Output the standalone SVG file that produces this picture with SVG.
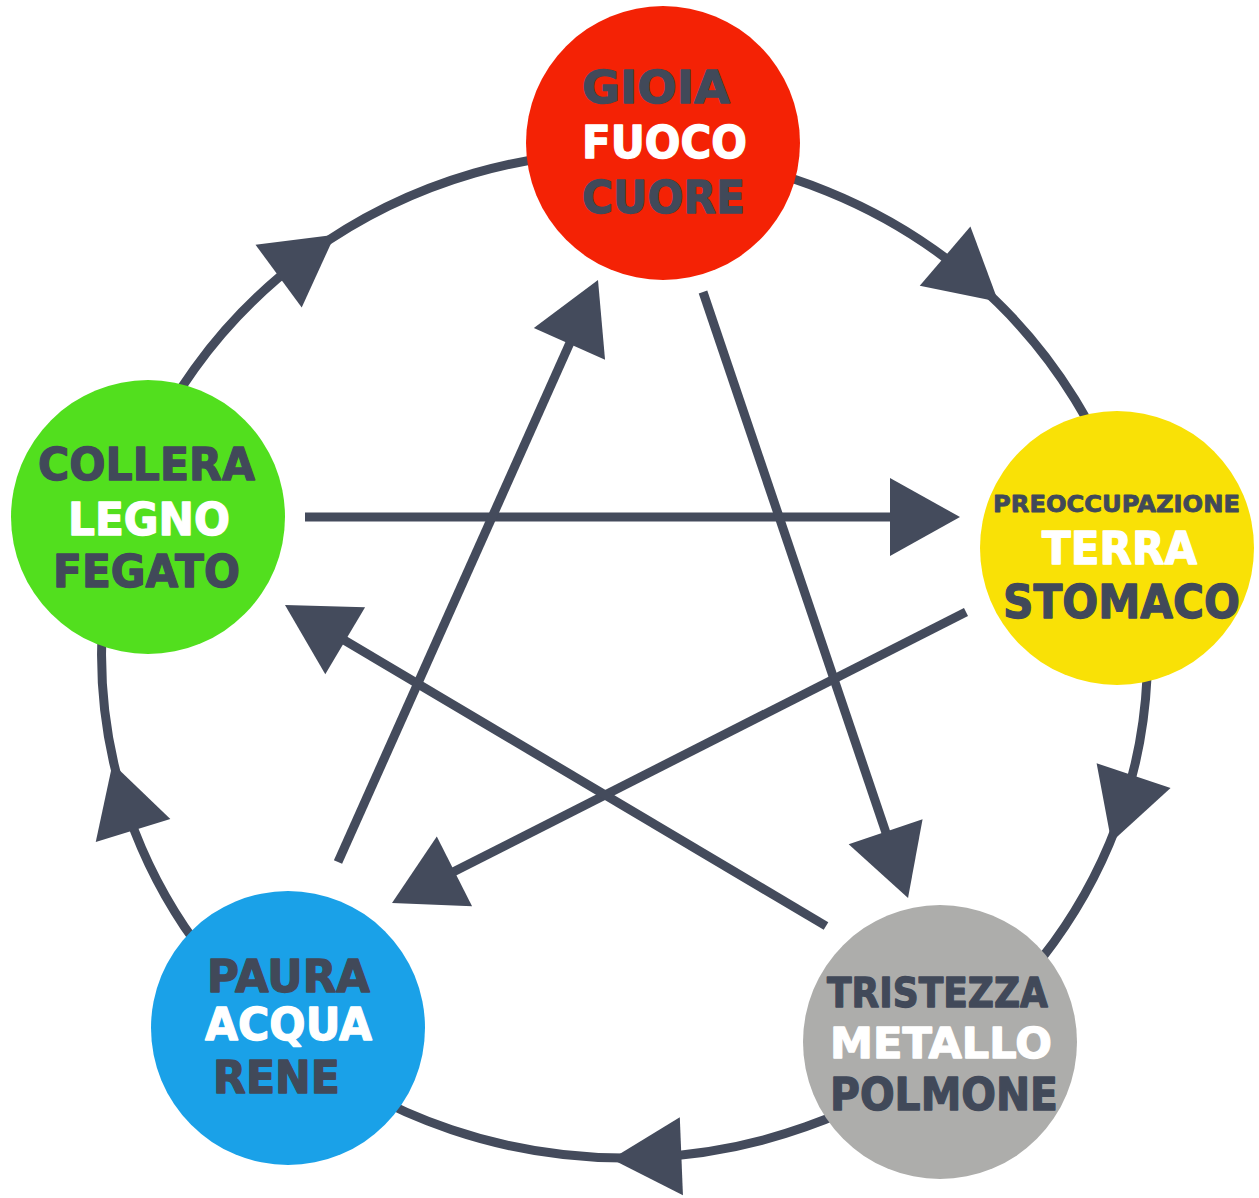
<svg xmlns="http://www.w3.org/2000/svg" width="1259" height="1198" viewBox="0 0 1259 1198">
  <style>
    .conn { fill: none; stroke: #444b5c; stroke-width: 9; stroke-linecap: butt; }
    .arc { marker-mid: url(#am); }
    .line { marker-end: url(#ah); }
    .t { font-family: "DejaVu Sans", Verdana, sans-serif; font-weight: bold; text-anchor: middle; stroke-width: 1.3; stroke-linejoin: round; }
    .dk { fill: #414959; stroke: #414959; }
    .wh { fill: #ffffff; stroke: #ffffff; }
  </style>
  <defs>
    <marker id="am" markerUnits="userSpaceOnUse" markerWidth="80" markerHeight="80" viewBox="-40 -40 80 80" refX="0" refY="0" orient="auto" overflow="visible">
      <path d="M -35,-39 L 35,0 L -35,39 Z" fill="#444b5c"/>
    </marker>
    <marker id="ah" markerUnits="userSpaceOnUse" markerWidth="80" markerHeight="80" viewBox="-75 -40 80 80" refX="-12" refY="0" orient="auto" overflow="visible">
      <path d="M -70,-39 L 0,0 L -70,39 Z" fill="#444b5c"/>
    </marker>
  </defs>
  <rect width="1259" height="1198" fill="#ffffff"/>
  <g id="connectors">
    <path class="conn arc" d="M 661.0,153.2 A 523 503 0 0 1 971.7,278.9 A 523 503 0 0 1 1134.7,544.4"/>
    <path class="conn arc" d="M 1134.7,544.4 A 523 503 0 0 1 1122.5,808.8 A 523 503 0 0 1 947.4,1050.6"/>
    <path class="conn arc" d="M 947.4,1050.6 A 523 503 0 0 1 646.4,1157.6 A 523 503 0 0 1 281.4,1034.6"/>
    <path class="conn arc" d="M 281.4,1034.6 A 523 503 0 0 1 122.8,797.0 A 523 503 0 0 1 123.6,510.5"/>
    <path class="conn arc" d="M 123.6,510.5 A 523 503 0 0 1 306.8,255.4 A 523 503 0 0 1 661.0,153.2"/>
    <path class="conn line" d="M 305,517 L 948,517"/>
    <path class="conn line" d="M 703,292 L 904.2,886.6"/>
    <path class="conn line" d="M 966,612 L 402.7,897.6"/>
    <path class="conn line" d="M 826,926 L 295.3,611.1"/>
    <path class="conn line" d="M 338,862 L 593.1,291.0"/>
  </g>
  <g id="node-fuoco">
    <circle cx="663" cy="143" r="137" fill="#f42205"/>
    <text class="t dk" x="656" y="103" font-size="44" textLength="148" lengthAdjust="spacingAndGlyphs">GIOIA</text>
    <text class="t wh" x="664.5" y="158" font-size="44" textLength="165" lengthAdjust="spacingAndGlyphs">FUOCO</text>
    <text class="t dk" x="663.5" y="213" font-size="44" textLength="163" lengthAdjust="spacingAndGlyphs">CUORE</text>
  </g>
  <g id="node-terra">
    <circle cx="1117" cy="548" r="137" fill="#f9e106"/>
    <text class="t dk" x="1116.5" y="512" font-size="23" textLength="247" lengthAdjust="spacingAndGlyphs" style="stroke-width:0.8">PREOCCUPAZIONE</text>
    <text class="t wh" x="1119.5" y="564" font-size="44" textLength="155" lengthAdjust="spacingAndGlyphs">TERRA</text>
    <text class="t dk" x="1121.5" y="618" font-size="46" textLength="237" lengthAdjust="spacingAndGlyphs">STOMACO</text>
  </g>
  <g id="node-metallo">
    <circle cx="940" cy="1042" r="137" fill="#adadab"/>
    <text class="t dk" x="937.5" y="1007" font-size="41" textLength="221" lengthAdjust="spacingAndGlyphs">TRISTEZZA</text>
    <text class="t wh" x="941" y="1058" font-size="42" textLength="222" lengthAdjust="spacingAndGlyphs">METALLO</text>
    <text class="t dk" x="944" y="1110" font-size="44" textLength="228" lengthAdjust="spacingAndGlyphs">POLMONE</text>
  </g>
  <g id="node-acqua">
    <circle cx="288" cy="1028" r="137" fill="#1aa1e8"/>
    <text class="t dk" x="288.5" y="992" font-size="45" textLength="163" lengthAdjust="spacingAndGlyphs">PAURA</text>
    <text class="t wh" x="288.5" y="1040" font-size="45" textLength="167" lengthAdjust="spacingAndGlyphs">ACQUA</text>
    <text class="t dk" x="276.5" y="1093" font-size="45" textLength="127" lengthAdjust="spacingAndGlyphs">RENE</text>
  </g>
  <g id="node-legno">
    <circle cx="148" cy="517" r="137" fill="#52df1e"/>
    <text class="t dk" x="146.5" y="480" font-size="45" textLength="217" lengthAdjust="spacingAndGlyphs">COLLERA</text>
    <text class="t wh" x="149" y="535" font-size="45" textLength="162" lengthAdjust="spacingAndGlyphs">LEGNO</text>
    <text class="t dk" x="146.5" y="587" font-size="45" textLength="187" lengthAdjust="spacingAndGlyphs">FEGATO</text>
  </g>
</svg>
